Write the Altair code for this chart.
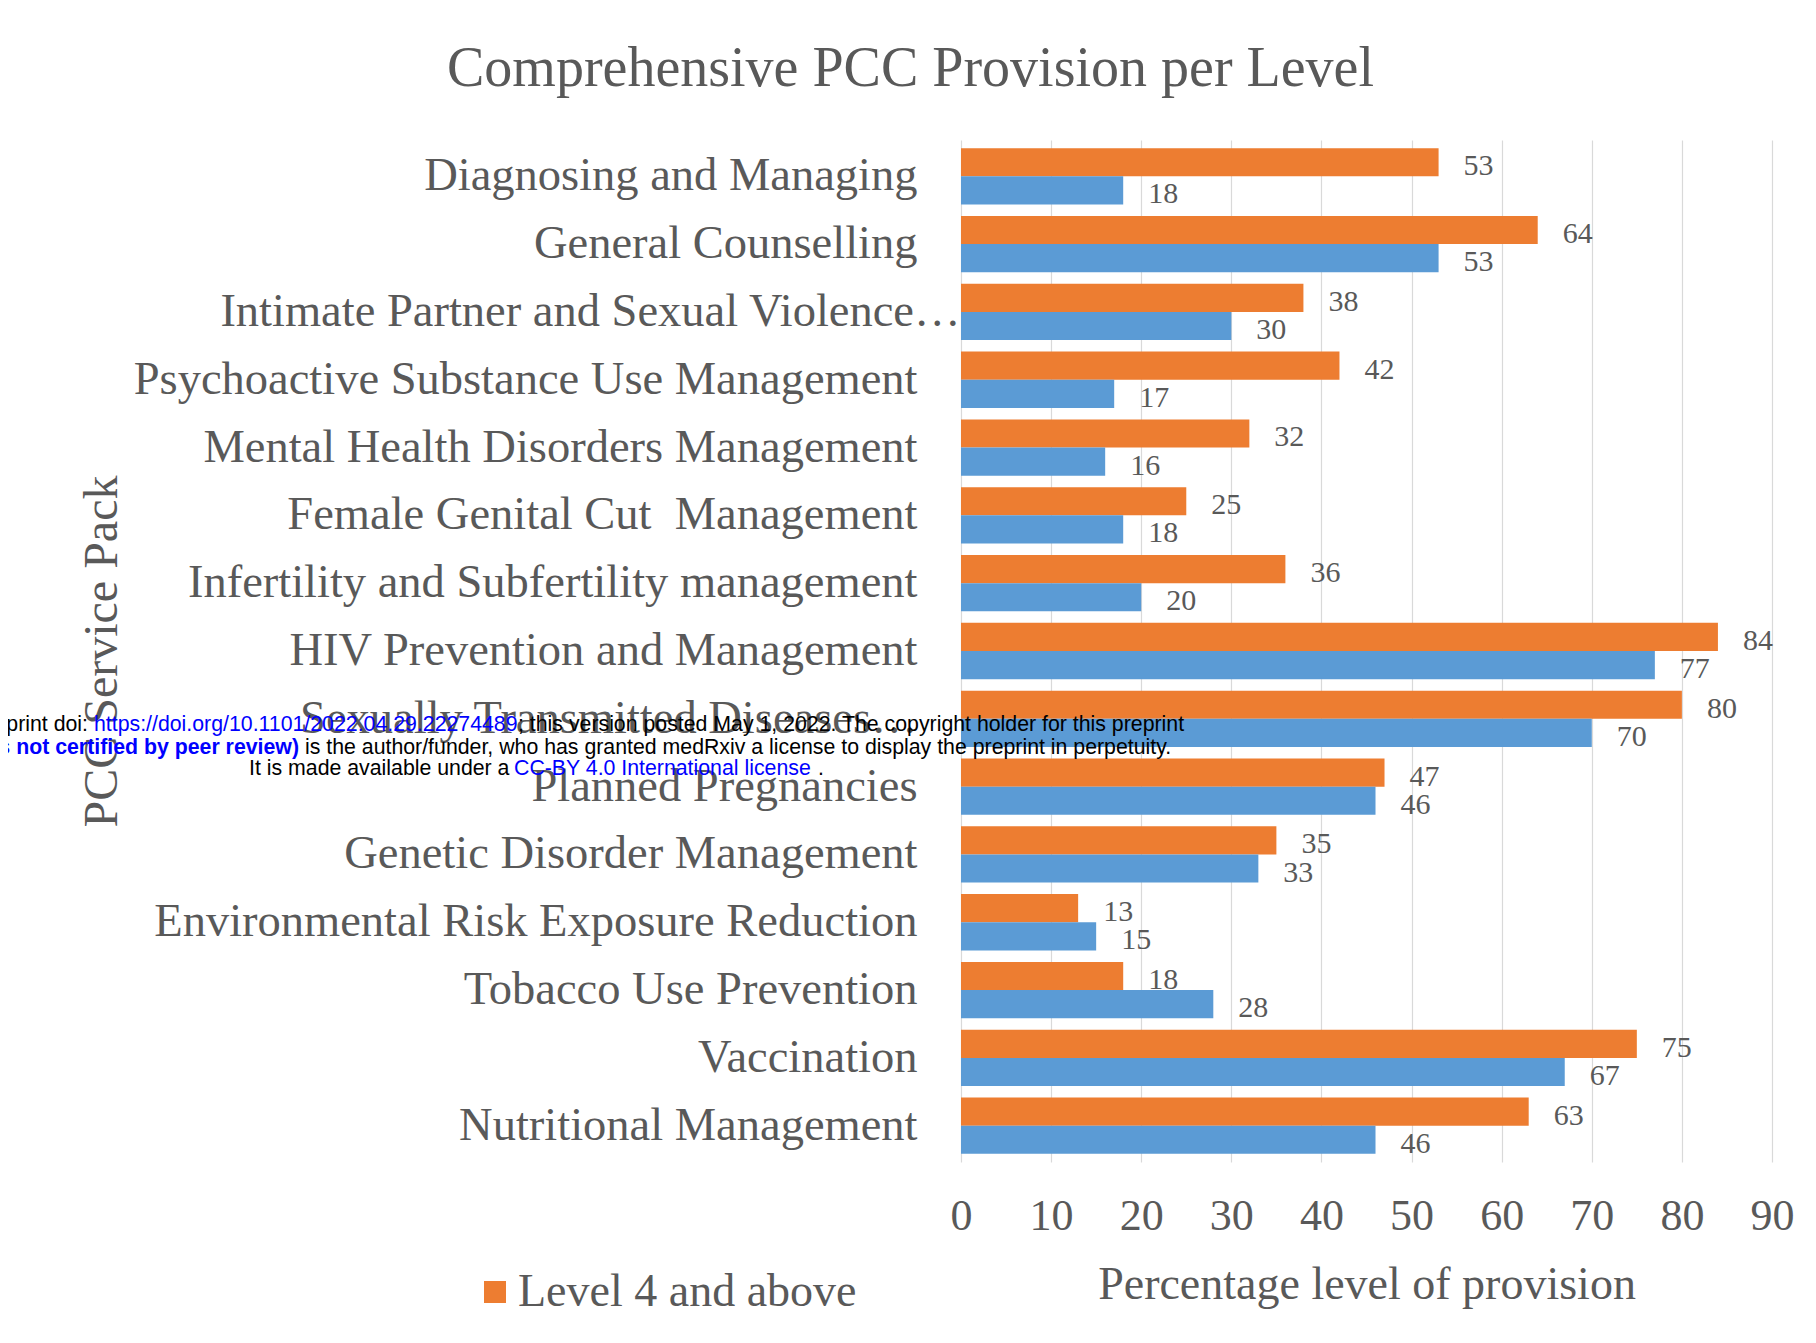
import altair as alt
import pandas as pd

categories = [
    "Diagnosing and Managing",
    "General Counselling",
    "Intimate Partner and Sexual Violence…",
    "Psychoactive Substance Use Management",
    "Mental Health Disorders Management",
    "Female Genital Cut\u00a0 Management",
    "Infertility and Subfertility management",
    "HIV Prevention and Management",
    "Sexually Transmitted Diseases…",
    "Planned Pregnancies",
    "Genetic Disorder Management",
    "Environmental Risk Exposure Reduction",
    "Tobacco Use Prevention",
    "Vaccination",
    "Nutritional Management",
]
level4_values = [53, 64, 38, 42, 32, 25, 36, 84, 80, 47, 35, 13, 18, 75, 63]
level23_values = [18, 53, 30, 17, 16, 18, 20, 77, 70, 46, 33, 15, 28, 67, 46]
series_names = ["Level 4 and above", "Level 2 and 3"]
series_colors = ["#ED7D31", "#5B9BD5"]
x_ticks = [0, 10, 20, 30, 40, 50, 60, 70, 80, 90]

df = pd.DataFrame({
    "category": categories * 2,
    "series": [series_names[0]] * len(categories) + [series_names[1]] * len(categories),
    "value": level4_values + level23_values,
})

SERIF = "Liberation Serif"
GRAY = "#595959"

base = alt.Chart(df).encode(
    y=alt.Y(
        "category:N",
        sort=categories,
        scale=alt.Scale(paddingInner=0.17, paddingOuter=0.12),
        axis=alt.Axis(
            title="PCC Service Pack",
            titleFont=SERIF,
            titleFontSize=48,
            titleFontWeight="normal",
            titleColor=GRAY,
            titleAngle=270,
            titleX=-859,
            titleY=511,
            titleAlign="center",
            titleBaseline="middle",
            labelFont=SERIF,
            labelFontSize=46.5,
            labelColor=GRAY,
            labelLimit=2000,
            labelPadding={"condition": {"test": "indexof(datum.label, 'Intimate') >= 0", "value": 1}, "value": 44},
            domain=False,
            ticks=False,
            grid=False,
        ),
    ),
    yOffset=alt.YOffset(
        "series:N",
        sort=series_names,
        scale=alt.Scale(domain=series_names, paddingInner=0, paddingOuter=0),
    ),
    x=alt.X(
        "value:Q",
        scale=alt.Scale(domain=[0, 90], nice=False),
        axis=alt.Axis(
            values=x_ticks,
            grid=True,
            gridColor="#d9d9d9",
            gridWidth=1.2,
            domain=False,
            ticks=False,
            labelFont=SERIF,
            labelFontSize=44,
            labelColor=GRAY,
            labelPadding=32,
            labelFlush=False,
            title="Percentage level of provision",
            titleFont=SERIF,
            titleFontSize=46,
            titleFontWeight="normal",
            titleColor=GRAY,
            titlePadding=24,
        ),
    ),
)

bars = base.mark_bar().encode(
    color=alt.Color(
        "series:N",
        scale=alt.Scale(domain=series_names, range=series_colors),
        legend=alt.Legend(
            values=[series_names[0]],
            orient="none",
            legendX=-489,
            legendY=1129,
            title=None,
            symbolType="square",
            symbolSize=484,
            symbolStrokeWidth=0,
            labelFont=SERIF,
            labelFontSize=46,
            labelColor=GRAY,
            labelOffset=0,
            labelLimit=2000,
            padding=0,
        ),
    )
)

value_labels = base.mark_text(
    align="left", baseline="middle", dx=25, dy=4,
    font=SERIF, fontSize=30, color=GRAY,
).encode(text="value:Q")


def note(text, x, y, color="black", align="left", weight="normal"):
    return alt.Chart(pd.DataFrame({"t": [text]})).mark_text(
        align=align, baseline="middle", font="Liberation Sans", fontSize=21.3,
        color=color, fontWeight=weight,
    ).encode(x=alt.value(x), y=alt.value(y), text="t:N")


BLUE = "#0000FF"
overlay = [
    note("medRxiv preprint doi:", -873, 585, align="right"),
    note("https://doi.org/10.1101/2022.04.29.22274489", -867, 585, color=BLUE),
    note("; this version posted May 1, 2022. The copyright holder for this preprint", -443, 585),
    note("(which was not certified by peer review)", -662, 608, color=BLUE, align="right", weight="bold"),
    note(" is the author/funder, who has granted medRxiv a license to display the preprint in perpetuity.", -656, 608),
    note("It is made available under a", -712, 629),
    note("CC-BY 4.0 International license", -447, 629, color=BLUE),
    note(".", -143, 629),
]

chart = alt.layer(bars, value_labels, *overlay).properties(
    width=811,
    height=1022,
    autosize=alt.AutoSizeParams(type="none"),
    padding={"left": 953, "top": 132, "right": 30, "bottom": 170},
    title=alt.Title(
        "Comprehensive PCC Provision per Level",
        font=SERIF,
        fontSize=56,
        fontWeight="normal",
        color=GRAY,
        anchor="middle",
        baseline="alphabetic",
        dx=-456,
        dy=49,
        offset=47,
    ),
).configure_view(stroke=None)

chart.save("out.html", embed_options={"renderer": "svg", "actions": False})
